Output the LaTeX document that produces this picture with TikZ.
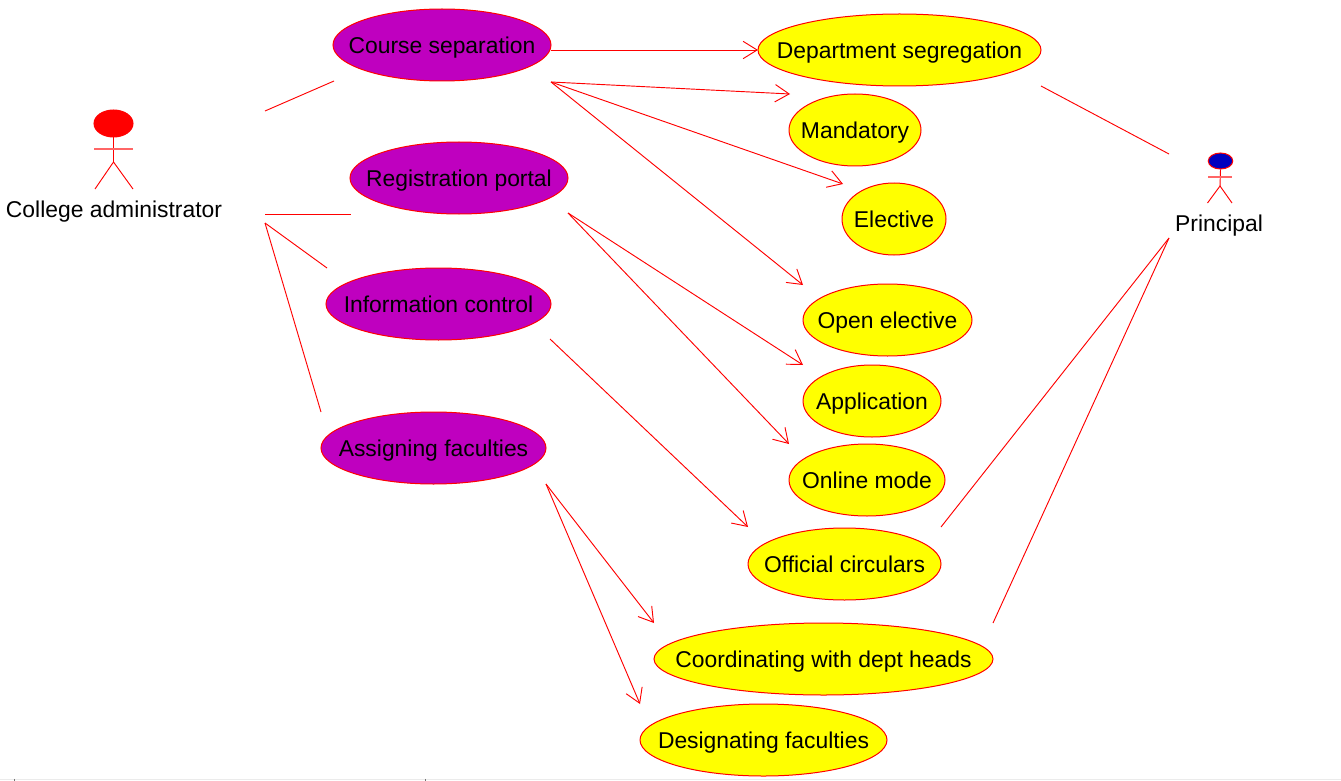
\documentclass[tikz,border=0pt]{standalone}
\usepackage{fontspec}
\setmainfont{Liberation Sans}
\usetikzlibrary{arrows.meta,shapes.geometric}
\definecolor{uered}{RGB}{255,0,0}
\definecolor{uepurple}{RGB}{191,0,191}
\definecolor{ueyellow}{RGB}{255,255,0}
\definecolor{ueblue}{RGB}{0,0,191}
\newcommand{\uctext}[1]{\raisebox{-12.85pt}{\smash{\makebox[0pt]{#1}}}}
\tikzset{
  x=0.75pt,y=-0.75pt,
  every node/.style={font=\fontsize{17.15pt}{20pt}\selectfont,text=black},
  usecase/.style={ellipse,draw=uered,line width=0.75pt,inner sep=0pt,anchor=center},
  adminuc/.style={usecase,fill=uepurple},
  princuc/.style={usecase,fill=ueyellow},
  assoc/.style={draw=uered,line width=0.7pt},
  dep/.style={assoc,-{Straight Barb[length=10.5pt,width=13pt,line width=0.7pt]}},
  limb/.style={draw=uered,line width=0.7pt},
  arm/.style={draw=uered!60,line width=1.1pt},
  actorhead/.style={ellipse,draw=uered,line width=0.75pt,inner sep=0pt},
  label/.style={inner sep=0pt,anchor=center},
}
\begin{document}
\begin{tikzpicture}
\useasboundingbox (0,0) rectangle (1341,781);
\fill[white] (0,0) rectangle (1341,781);
% faint strip at the bottom edge
\draw[black!8,line width=0.75pt] (0,779.5) -- (1341,779.5);
\draw[black!55,line width=0.75pt] (14,778.8) -- (14,781);
\draw[black!55,line width=0.75pt] (425,778.8) -- (425,781);

% College administrator actor
\node[actorhead,fill=uered,minimum width=29.25pt,minimum height=20.25pt] (adminhead) at (113.5,123.5) {};
\coordinate (adminhip) at (113.5,162);
\coordinate (adminarml) at (94,149);
\coordinate (adminarmr) at (133,149);
\coordinate (adminlegl) at (95,189);
\coordinate (adminlegr) at (133,189);
\draw[limb] (adminhead.south) -- (adminhip);
\draw[arm] (adminarml) -- (adminarmr);
\draw[limb] (adminlegl) -- (adminhip) -- (adminlegr);
\node[label] (adminlabel) at (114,212) {College administrator};

% Principal actor
\node[actorhead,fill=ueblue,minimum width=18.4pt,minimum height=12pt] (princhead) at (1220.5,161) {};
\coordinate (prinhip) at (1220,186);
\coordinate (prinarml) at (1208,177);
\coordinate (prinarmr) at (1232,177);
\coordinate (prinlegl) at (1207.5,203);
\coordinate (prinlegr) at (1232,203);
\draw[limb] (princhead.south) -- (prinhip);
\draw[arm] (prinarml) -- (prinarmr);
\draw[limb] (prinlegl) -- (prinhip) -- (prinlegr);
\node[label] (princlabel) at (1219,226) {Principal};

% Admin use cases
\node[adminuc,minimum width=163.5pt,minimum height=54pt] (course) at (442,45) {\uctext{Course separation}};
\node[adminuc,minimum width=163.5pt,minimum height=54pt] (regist) at (459,178) {\uctext{Registration portal}};
\node[adminuc,minimum width=168.75pt,minimum height=54pt] (inform) at (438.5,304) {\uctext{Information control}};
\node[adminuc,minimum width=168.75pt,minimum height=54pt] (assign) at (433.5,448) {\uctext{Assigning faculties}};

% Other use cases
\node[princuc,minimum width=212.25pt,minimum height=54pt] (dept) at (899.5,50) {\uctext{Department segregation}};
\node[princuc,minimum width=99pt,minimum height=54pt] (mand) at (855,130) {\uctext{Mandatory}};
\node[princuc,minimum width=78pt,minimum height=54pt] (elec) at (894,219) {\uctext{Elective}};
\node[princuc,minimum width=126.75pt,minimum height=54pt] (open) at (887.5,320) {\uctext{Open elective}};
\node[princuc,minimum width=103.5pt,minimum height=54pt] (appl) at (872,401) {\uctext{Application}};
\node[princuc,minimum width=117pt,minimum height=54pt] (online) at (867,480) {\uctext{Online mode}};
\node[princuc,minimum width=144.75pt,minimum height=54pt] (circ) at (844.5,564) {\uctext{Official circulars}};
\node[princuc,minimum width=254.25pt,minimum height=54pt] (coord) at (823.5,659) {\uctext{Coordinating with dept heads}};
\node[princuc,minimum width=185.25pt,minimum height=54pt] (desig) at (763.5,740) {\uctext{Designating faculties}};

% Free connector ends
\coordinate (adminA) at (265,111);
\coordinate (adminB) at (265,214);
\coordinate (adminC) at (265,223);
\coordinate (courseL) at (334,81);
\coordinate (registL) at (351,214);
\coordinate (informL) at (327,268);
\coordinate (assignL) at (321,412);
\coordinate (deptR) at (1041,86);
\coordinate (princA) at (1169,154);
\coordinate (princB) at (1169,238);
\coordinate (circR) at (941,527);
\coordinate (coordR) at (993,623);
\coordinate (courseR) at (551,50);
\coordinate (courseC) at (551,82);
\coordinate (registC) at (568,213);
\coordinate (informC) at (550,339);
\coordinate (assignC) at (546,484);
\coordinate (deptL) at (758,50);
\coordinate (mandC) at (790,94);
\coordinate (elecC) at (843,184);
\coordinate (openC) at (803,285);
\coordinate (applC) at (803,365);
\coordinate (onlineC) at (789,444);
\coordinate (circC) at (748,527);
\coordinate (coordC) at (654,623);
\coordinate (desigC) at (640,704);

% Associations
\draw[assoc] (adminA) -- (courseL);
\draw[assoc] (adminB) -- (registL);
\draw[assoc] (adminC) -- (informL);
\draw[assoc] (adminC) -- (assignL);
\draw[assoc] (deptR) -- (princA);
\draw[assoc] (princB) -- (circR);
\draw[assoc] (princB) -- (coordR);

% Dependencies
\draw[dep] (courseR) -- (deptL);
\draw[dep] (courseC) -- (mandC);
\draw[dep] (courseC) -- (elecC);
\draw[dep] (courseC) -- (openC);
\draw[dep] (registC) -- (applC);
\draw[dep] (registC) -- (onlineC);
\draw[dep] (informC) -- (circC);
\draw[dep] (assignC) -- (coordC);
\draw[dep] (assignC) -- (desigC);
\end{tikzpicture}
\end{document}
